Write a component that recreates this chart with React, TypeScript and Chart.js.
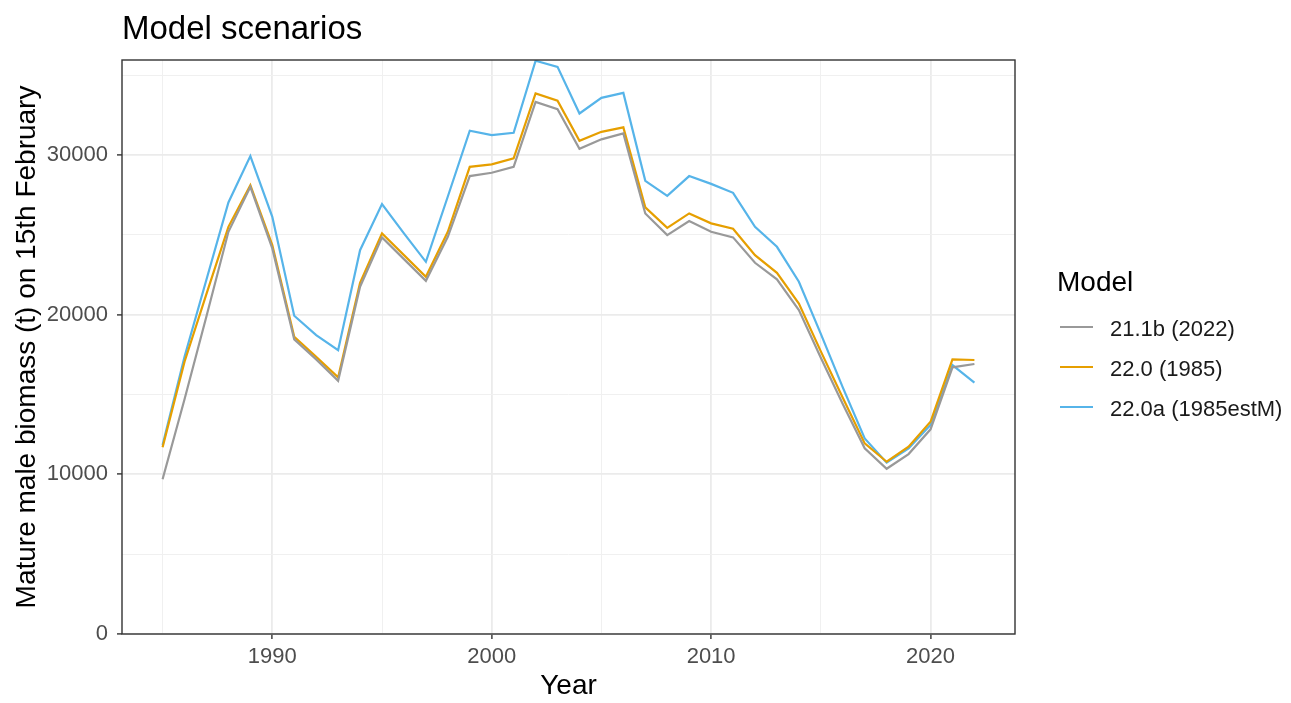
import React, { useEffect, useRef } from 'react';
import { Chart, registerables } from 'chart.js';

Chart.register(...registerables);

const years = [
  1985, 1986, 1987, 1988, 1989, 1990, 1991, 1992, 1993, 1994,
  1995, 1996, 1997, 1998, 1999, 2000, 2001, 2002, 2003, 2004,
  2005, 2006, 2007, 2008, 2009, 2010, 2011, 2012, 2013, 2014,
  2015, 2016, 2017, 2018, 2019, 2020, 2021, 2022,
];

const model211b = [
  9690, 14700, 19900, 25190, 28010, 24150, 18450, 17200, 15860, 21750,
  24840, 23480, 22120, 24880, 28680, 28890, 29260, 33330, 32870, 30390,
  30980, 31350, 26340, 24980, 25860, 25190, 24840, 23250, 22210, 20290,
  17300, 14400, 11630, 10350, 11270, 12820, 16700, 16910,
];

const model220 = [
  11690, 17050, 21300, 25500, 28110, 24360, 18620, 17360, 16070, 22000,
  25090, 23730, 22370, 25190, 29260, 29410, 29790, 33860, 33400, 30890,
  31450, 31730, 26720, 25440, 26340, 25720, 25380, 23730, 22620, 20700,
  17700, 14800, 11940, 10790, 11730, 13290, 17200, 17160,
];

const model220a = [
  11830, 17360, 22200, 27030, 29930, 26130, 19930, 18720, 17780, 24040,
  26930, 25090, 23310, 27400, 31520, 31250, 31390, 35900, 35520, 32600,
  33580, 33890, 28380, 27440, 28680, 28190, 27630, 25500, 24250, 22060,
  18800, 15450, 12250, 10730, 11630, 13090, 16840, 15740,
];

const seriesLabels = ['21.1b (2022)', '22.0 (1985)', '22.0a (1985estM)'];
const seriesColors = ['#999999', '#E69F00', '#56B4E9'];
const seriesValues = [model211b, model220, model220a];

const xTickValues = [1985, 1990, 1995, 2000, 2005, 2010, 2015, 2020];
const yTickValues = [0, 5000, 10000, 15000, 20000, 25000, 30000, 35000];

const chartTitle = 'Model scenarios';
const xTitle = 'Year';
const yTitle = 'Mature male biomass (t) on 15th February';
const legendTitle = 'Model';

const FONT = '"Liberation Sans", Arial, Helvetica, sans-serif';

export default function App() {
  const canvasRef = useRef<HTMLCanvasElement>(null);

  useEffect(() => {
    document.body.style.margin = '0';
    const canvas = canvasRef.current;
    if (!canvas) return;

    const decorations = {
      id: 'decorations',
      afterDatasetsDraw(chart: any) {
        const { ctx, chartArea } = chart;
        ctx.save();
        ctx.strokeStyle = '#333333';
        ctx.lineWidth = 1.4;
        ctx.strokeRect(
          chartArea.left,
          chartArea.top,
          chartArea.right - chartArea.left,
          chartArea.bottom - chartArea.top
        );
        ctx.restore();
      },
      afterDraw(chart: any) {
        const { ctx, chartArea } = chart;
        ctx.save();
        ctx.fillStyle = '#000000';
        ctx.font = `33px ${FONT}`;
        ctx.textAlign = 'left';
        ctx.textBaseline = 'alphabetic';
        ctx.fillText(chartTitle, chartArea.left, 39);

        const lx = chartArea.right + 42;
        ctx.font = `28px ${FONT}`;
        ctx.fillText(legendTitle, lx, 291);
        ctx.font = `22px ${FONT}`;
        seriesLabels.forEach((lab, i) => {
          const cy = 327 + i * 40;
          ctx.strokeStyle = seriesColors[i];
          ctx.lineWidth = 2;
          ctx.beginPath();
          ctx.moveTo(lx + 3, cy);
          ctx.lineTo(lx + 36, cy);
          ctx.stroke();
          ctx.fillStyle = '#1A1A1A';
          ctx.fillText(lab, lx + 53, cy + 9);
        });
        ctx.restore();
      },
    };

    const chart = new Chart(canvas, {
      type: 'line',
      data: {
        datasets: seriesValues.map((vals, i) => ({
          label: seriesLabels[i],
          data: years.map((yr, j) => ({ x: yr, y: vals[j] })),
          borderColor: seriesColors[i],
          backgroundColor: seriesColors[i],
          borderWidth: 2.2,
          pointRadius: 0,
          tension: 0,
          fill: false,
        })),
      },
      options: {
        animation: false,
        responsive: true,
        maintainAspectRatio: false,
        layout: { padding: { left: 0, top: 60, right: 276, bottom: 0 } },
        plugins: {
          legend: { display: false },
          title: { display: false },
          tooltip: { enabled: false },
        },
        scales: {
          x: {
            type: 'linear',
            min: 1983.15,
            max: 2023.85,
            afterBuildTicks: (scale: any) => {
              scale.ticks = xTickValues.map((v) => ({ value: v }));
            },
            afterFit: (scale: any) => {
              scale.height = 69;
            },
            ticks: {
              autoSkip: false,
              maxRotation: 0,
              padding: 5,
              color: '#4D4D4D',
              font: { family: FONT, size: 22 },
              callback: (v: any) => (Number(v) % 10 === 0 ? String(v) : ''),
            },
            grid: {
              color: (c: any) => (c.tick && c.tick.value % 10 === 0 ? '#EBEBEB' : '#F0F0F0'),
              lineWidth: (c: any) => (c.tick && c.tick.value % 10 === 0 ? 1.8 : 1),
              tickColor: (c: any) => (c.tick && c.tick.value % 10 === 0 ? '#333333' : 'rgba(0,0,0,0)'),
              tickWidth: 1.4,
              tickLength: 5,
              drawTicks: true,
            },
            border: { display: false },
            title: {
              display: true,
              text: xTitle,
              color: '#000000',
              font: { family: FONT, size: 28 },
              padding: { top: 0, bottom: 0 },
            },
          },
          y: {
            type: 'linear',
            min: 0,
            max: 35950,
            afterBuildTicks: (scale: any) => {
              scale.ticks = yTickValues.map((v) => ({ value: v }));
            },
            afterFit: (scale: any) => {
              scale.width = 122;
            },
            ticks: {
              autoSkip: false,
              padding: 9,
              color: '#4D4D4D',
              font: { family: FONT, size: 22 },
              callback: (v: any) => (Number(v) % 10000 === 0 ? String(v) : ''),
            },
            grid: {
              color: (c: any) => (c.tick && c.tick.value % 10000 === 0 ? '#EBEBEB' : '#F0F0F0'),
              lineWidth: (c: any) => (c.tick && c.tick.value % 10000 === 0 ? 1.8 : 1),
              tickColor: (c: any) => (c.tick && c.tick.value % 10000 === 0 ? '#333333' : 'rgba(0,0,0,0)'),
              tickWidth: 1.4,
              tickLength: 5,
              drawTicks: true,
            },
            border: { display: false },
            title: {
              display: true,
              text: yTitle,
              color: '#000000',
              font: { family: FONT, size: 28 },
              padding: { top: 10, bottom: 0 },
            },
          },
        },
      },
      plugins: [decorations],
    });

    return () => {
      chart.destroy();
    };
  }, []);

  return (
    <div style={{ position: 'relative', width: '1291px', height: '703px' }}>
      <canvas ref={canvasRef} />
    </div>
  );
}
